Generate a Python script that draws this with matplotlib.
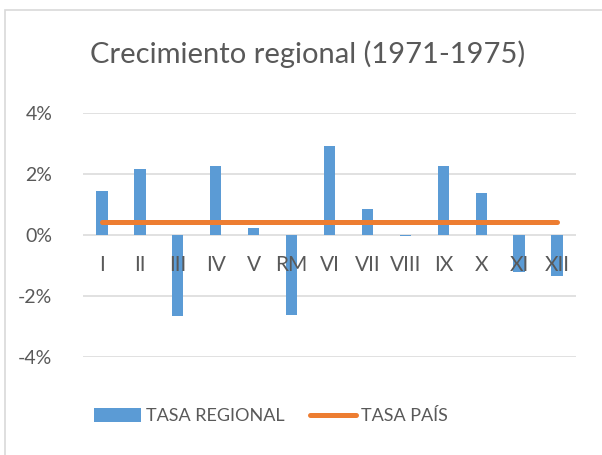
import matplotlib
matplotlib.use("Agg")
import matplotlib.pyplot as plt
from matplotlib.patches import Rectangle, Patch
from matplotlib.lines import Line2D
from matplotlib.ticker import FuncFormatter
from matplotlib.transforms import offset_copy

# data
regiones = ["I", "II", "III", "IV", "V", "RM", "VI", "VII", "VIII", "IX", "X", "XI", "XII"]
tasa_regional = [0.0145, 0.0216, -0.0265, 0.0227, 0.0023, -0.0262, 0.0293,
                 0.0085, -0.0002, 0.0225, 0.0138, -0.0122, -0.0136]
tasa_pais = 0.0044
y_ticks = [-0.04, -0.02, 0.0, 0.02, 0.04]

BLUE = "#5B9BD5"
ORANGE = "#ED7D31"
GRID = "#D9D9D9"
TEXT = "#595959"

plt.rcParams["font.family"] = ["Lato", "DejaVu Sans"]

W, H = 602, 455
fig = plt.figure(figsize=(W / 100, H / 100), dpi=100)

# chart border (cropped on right and bottom)
fig.patches.append(Rectangle((5 / W, -0.1), 1.2, 1 - 9.5 / H + 0.1,
                             transform=fig.transFigure, fill=False,
                             edgecolor=GRID, linewidth=1.2))

ax = fig.add_axes([83 / W, 1 - 357 / H, (576 - 83) / W, (357 - 113) / H])
x = list(range(len(regiones)))
ax.bar(x, tasa_regional, width=0.30, color=BLUE, zorder=2)
ax.plot([x[0], x[-1]], [tasa_pais, tasa_pais], color=ORANGE, linewidth=3.6,
        solid_capstyle="round", zorder=3)

ax.set_xlim(-0.5, len(regiones) - 0.5)
ax.set_ylim(-0.04, 0.04)
ax.set_yticks(y_ticks)
ax.yaxis.set_major_formatter(FuncFormatter(lambda v, p: f"{v * 100:.0f}%"))
ax.grid(axis="y", color=GRID, linewidth=1.1, zorder=0)
ax.set_axisbelow(True)

for s in ["top", "right", "left", "bottom"]:
    ax.spines[s].set_visible(False)

# category labels sit next to the zero line, drawn over the bars
ax.set_xticks([])
lbl_tr = offset_copy(ax.transData, fig=fig, x=0, y=-30, units="dots")
for xi, name in zip(x, regiones):
    ax.text(xi, 0, name, transform=lbl_tr, ha="center", va="center",
            fontsize=15, color=TEXT, zorder=5, clip_on=False)

ax.tick_params(axis="y", length=0, pad=22, labelsize=14, labelcolor=TEXT)

fig.text(308 / W, 1 - 54 / H, "Crecimiento regional (1971-1975)", ha="center",
         va="center", fontsize=21, color=TEXT)

handles = [Patch(facecolor=BLUE), Line2D([], [], color=ORANGE, linewidth=3.6,
                                           solid_capstyle="round")]
leg = fig.legend(handles, ["TASA REGIONAL", "TASA PAÍS"], loc="center",
                 bbox_to_anchor=(271 / W, 1 - 416 / H), ncol=2, frameon=False,
                 fontsize=13, handlelength=2.6, handleheight=0.8,
                 handletextpad=0.25, columnspacing=1.4, labelcolor=TEXT)

fig.savefig("out.png", dpi=100)
